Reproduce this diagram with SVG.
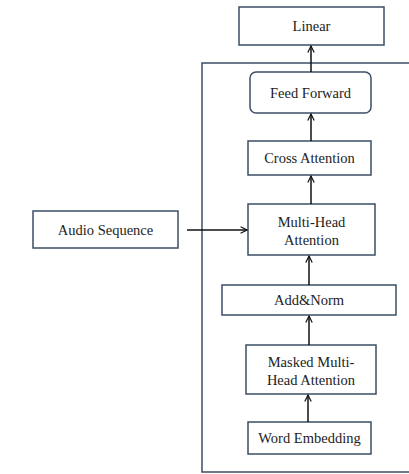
<svg xmlns="http://www.w3.org/2000/svg" width="409" height="474" viewBox="0 0 409 474">
<defs>
<style>
.box{fill:#fff;stroke:#3b4f66;stroke-width:1.5}
.t{font-family:'Liberation Serif','Times New Roman',serif;font-size:14.5px;fill:#222;text-anchor:middle}
.c{stroke:#111;stroke-width:1.5;fill:none}
</style>
<marker id="ah" viewBox="0 0 10 10" refX="9" refY="5" markerWidth="8" markerHeight="8" markerUnits="userSpaceOnUse" orient="auto">
<path d="M1,1 L9,5 L1,9" fill="none" stroke="#111" stroke-width="1.5"/>
</marker>
</defs>
<rect width="409" height="474" fill="#fff"/>
<g id="container"><path d="M410,63 H202 V472 H410" fill="none" stroke="#3b4f66" stroke-width="1.5"/></g>
<g id="linear"><rect class="box" x="239" y="7" width="145" height="38"/><text class="t" x="311.5" y="31">Linear</text></g>
<g id="feedforward"><rect class="box" x="250" y="72" width="121" height="41" rx="6"/><text class="t" x="310.5" y="98">Feed Forward</text></g>
<g id="crossattention"><rect class="box" x="248" y="141" width="123" height="34"/><text class="t" x="309.5" y="163">Cross Attention</text></g>
<g id="multihead"><rect class="box" x="248" y="204" width="127" height="51"/><text class="t" x="311.5" y="227">Multi-Head</text><text class="t" x="311.5" y="245">Attention</text></g>
<g id="addnorm"><rect class="box" x="222" y="285" width="174" height="30"/><text class="t" x="309" y="305">Add&amp;Norm</text></g>
<g id="masked"><rect class="box" x="246" y="345" width="130" height="49"/><text class="t" x="311" y="367">Masked Multi-</text><text class="t" x="311" y="385">Head Attention</text></g>
<g id="wordembedding"><rect class="box" x="248" y="422" width="123" height="32"/><text class="t" x="309.5" y="443">Word Embedding</text></g>
<g id="audio"><rect class="box" x="33" y="211" width="145" height="37"/><text class="t" x="105.5" y="235">Audio Sequence</text></g>
<g id="connectors">
<line class="c" x1="311" y1="72" x2="311" y2="46" marker-end="url(#ah)"/>
<line class="c" x1="311" y1="141" x2="311" y2="114" marker-end="url(#ah)"/>
<line class="c" x1="311" y1="204" x2="311" y2="176" marker-end="url(#ah)"/>
<line class="c" x1="309" y1="285" x2="309" y2="256" marker-end="url(#ah)"/>
<line class="c" x1="309" y1="345" x2="309" y2="316" marker-end="url(#ah)"/>
<line class="c" x1="308" y1="422" x2="308" y2="395" marker-end="url(#ah)"/>
<line class="c" x1="187" y1="230" x2="247" y2="230" marker-end="url(#ah)"/>
</g>
</svg>
